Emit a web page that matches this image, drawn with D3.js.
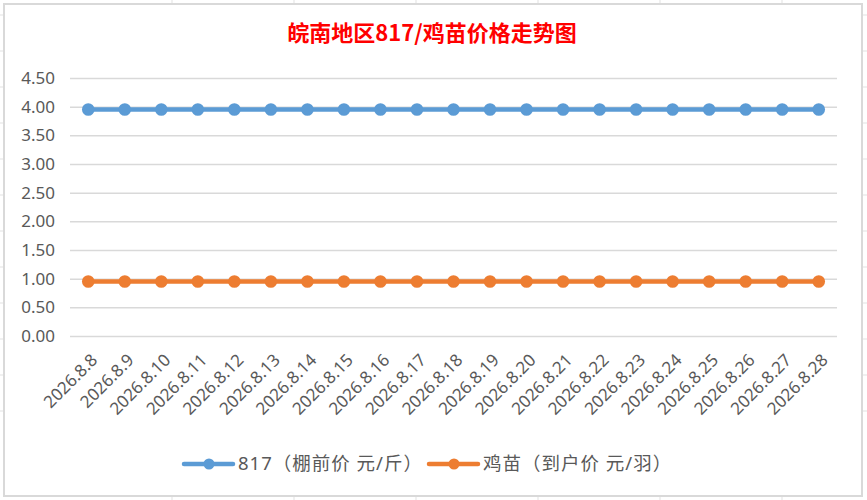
<!DOCTYPE html>
<html>
<head>
<meta charset="utf-8">
<script src="https://cdn.jsdelivr.net/npm/d3@7"></script>
<style>
  body { margin: 0; background: #fff; }
  svg { display: block; font-family: "Noto Sans", "Noto Sans CJK SC", sans-serif; }
</style>
</head>
<body>
<div id="chart"></div>
<script>
// chart data
const dates = ["2026.8.8", "2026.8.9", "2026.8.10", "2026.8.11", "2026.8.12", "2026.8.13", "2026.8.14",
    "2026.8.15", "2026.8.16", "2026.8.17", "2026.8.18", "2026.8.19", "2026.8.20", "2026.8.21",
    "2026.8.22", "2026.8.23", "2026.8.24", "2026.8.25", "2026.8.26", "2026.8.27", "2026.8.28"];
const price817 = [3.95, 3.95, 3.95, 3.95, 3.95, 3.95, 3.95, 3.95, 3.95, 3.95, 3.95,
    3.95, 3.95, 3.95, 3.95, 3.95, 3.95, 3.95, 3.95, 3.95, 3.95];
const priceChick = [0.95, 0.95, 0.95, 0.95, 0.95, 0.95, 0.95, 0.95, 0.95, 0.95, 0.95,
    0.95, 0.95, 0.95, 0.95, 0.95, 0.95, 0.95, 0.95, 0.95, 0.95];
const yTicks = [0, 0.5, 1, 1.5, 2, 2.5, 3, 3.5, 4, 4.5];
const seriesNames = ["817（棚前价 元/斤）", "鸡苗（到户价 元/羽）"];
const seriesColors = ["#5B9BD5", "#ED7D31"];
const title = "皖南地区817/鸡苗价格走势图";

const width = 867, height = 500;
const svg = d3.select("#chart").append("svg")
    .attr("width", width)
    .attr("height", height);

// spreadsheet cells peeking out around the chart
const sheet = svg.append("g").attr("stroke", "#e1e1e1").attr("stroke-width", 1);
d3.range(411, 0, -36).forEach(y => {
    sheet.append("line").attr("x1", 0).attr("x2", 3).attr("y1", y).attr("y2", y);
    sheet.append("line").attr("x1", 863).attr("x2", 867).attr("y1", y).attr("y2", y);
});
d3.range(172, 867, 122).forEach(x => {
    sheet.append("line").attr("x1", x).attr("x2", x).attr("y1", 0).attr("y2", 3);
    sheet.append("line").attr("x1", x).attr("x2", x).attr("y1", 497).attr("y2", 500);
});

// chart frame
svg.append("rect")
    .attr("x", 4).attr("y", 4)
    .attr("width", 858).attr("height", 492)
    .attr("fill", "#fff")
    .attr("stroke", "#d9d9d9")
    .attr("stroke-width", 2);

const x = d3.scaleBand().domain(dates).range([70, 837]);
const y = d3.scaleLinear().domain([0, 4.5]).range([336, 78]);
const cx = d => x(d) + x.bandwidth() / 2;

svg.append("text")
    .attr("x", 432).attr("y", 41)
    .attr("text-anchor", "middle")
    .attr("fill", "#FF0000")
    .attr("font-size", 22)
    .attr("font-weight", "bold")
    .attr("font-family", "'Noto Sans CJK SC', sans-serif")
    .text(title);

// y axis with gridlines
const yAxis = svg.append("g")
    .attr("transform", "translate(70,0)")
    .call(d3.axisLeft(y).tickValues(yTicks).tickFormat(d3.format(".2f"))
        .tickSize(-(837 - 70)).tickPadding(15));
yAxis.select(".domain").remove();
yAxis.selectAll(".tick line").attr("stroke", "#d9d9d9").attr("stroke-width", 1.5);
yAxis.selectAll(".tick text").attr("fill", "#595959").attr("font-size", 17)
    .attr("font-family", "'Noto Sans', sans-serif");

// x axis labels
const xAxis = svg.append("g")
    .attr("transform", "translate(0,336)")
    .call(d3.axisBottom(x).tickSize(0).tickPadding(0));
xAxis.select(".domain").remove();
xAxis.selectAll(".tick text")
    .attr("fill", "#595959")
    .attr("font-size", 17)
    .attr("font-family", "'Noto Sans', sans-serif")
    .attr("text-anchor", "end")
    .attr("dy", "0.35em")
    .attr("transform", "translate(6,21) rotate(-45)");

const series = [price817, priceChick];
const line = d3.line().x((d, i) => cx(dates[i])).y(d => y(d));

series.forEach((vals, s) => {
    const g = svg.append("g");
    g.append("path")
        .datum(vals)
        .attr("d", line)
        .attr("fill", "none")
        .attr("stroke", seriesColors[s])
        .attr("stroke-width", 4.5)
        .attr("stroke-linejoin", "round");
    g.selectAll("circle")
        .data(vals)
        .join("circle")
        .attr("cx", (d, i) => cx(dates[i]))
        .attr("cy", d => y(d))
        .attr("r", 6.3)
        .attr("fill", seriesColors[s]);
});

// legend
const legendX = [184, 429];
const legend = svg.append("g");
seriesNames.forEach((name, s) => {
    const lg = legend.append("g").attr("transform", `translate(${legendX[s]},464)`);
    lg.append("line")
        .attr("x1", 0).attr("x2", 49)
        .attr("stroke", seriesColors[s])
        .attr("stroke-width", 4.5)
        .attr("stroke-linecap", "round");
    lg.append("circle").attr("cx", 25).attr("r", 5.5).attr("fill", seriesColors[s]);
    lg.append("text")
        .attr("x", 54).attr("dy", "0.35em")
        .attr("fill", "#595959")
        .attr("font-size", 18.5)
        .attr("letter-spacing", 1)
        .attr("font-family", "'Noto Sans', 'Noto Sans CJK SC', sans-serif")
        .text(name);
});
</script>
</body>
</html>
